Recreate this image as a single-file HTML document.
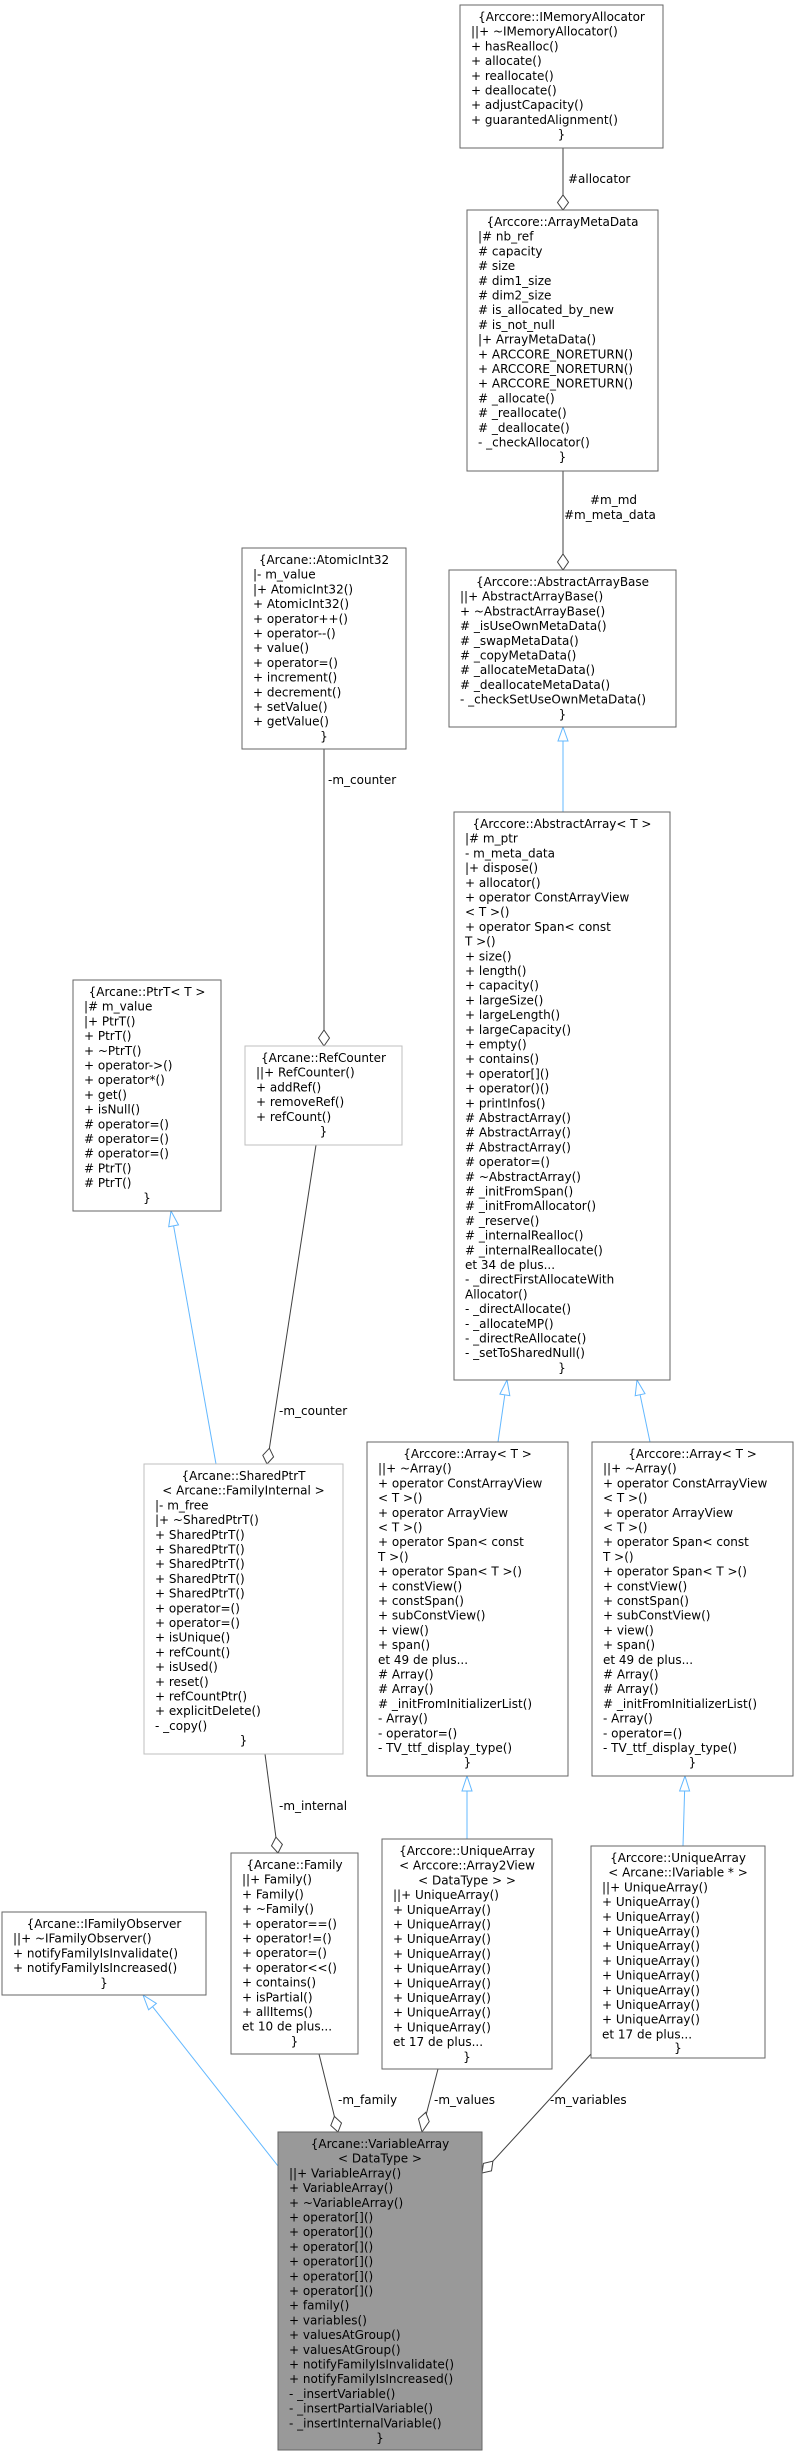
<!DOCTYPE html>
<html><head><meta charset="utf-8"><style>
html,body{margin:0;padding:0;background:#fff;}
svg{display:block;}
text{font-family:"DejaVu Sans","Liberation Sans",sans-serif;font-size:12px;fill:#000;}
.b{fill:#fff;stroke:#666;stroke-width:1;}
.l{fill:#fff;stroke:#bfbfbf;stroke-width:1;}
.g{fill:#999;stroke:#666;stroke-width:1;}
.a{stroke:#404040;fill:none;stroke-width:1;}
.ad{stroke:#404040;fill:#fff;stroke-width:1;}
.i{stroke:#63b8ff;fill:none;stroke-width:1;}
.it{stroke:#63b8ff;fill:#fff;stroke-width:1;}
.c{text-anchor:middle;}
</style></head><body>
<svg width="797" height="2456" viewBox="0 0 797 2456" xmlns="http://www.w3.org/2000/svg">
<g transform="translate(-3,0)">
<!-- edges -->
<line class="a" x1="566" y1="148" x2="566" y2="195"/>
<polygon class="ad" points="566,210 571.5,202.5 566,195 560.5,202.5"/>
<text x="571" y="183">#allocator</text>

<line class="a" x1="566" y1="471" x2="566" y2="554"/>
<polygon class="ad" points="566,570 571.5,562 566,554 560.5,562"/>
<text x="593" y="504">#m_md</text>
<text x="567" y="519">#m_meta_data</text>

<line class="i" x1="566" y1="812" x2="566" y2="741"/>
<polygon class="it" points="566,727 571,741 561,741"/>

<line class="a" x1="327" y1="749" x2="327" y2="1030"/>
<polygon class="ad" points="327,1046 332.5,1038 327,1030 321.5,1038"/>
<text x="331" y="784">-m_counter</text>

<line class="i" x1="219" y1="1464" x2="176.6" y2="1225.8"/>
<polygon class="it" points="174,1211 181.5,1224.9 171.7,1226.7"/>

<line class="a" x1="319" y1="1145" x2="272.4" y2="1448.2"/>
<polygon class="ad" points="270,1464 276.6,1456.9 272.4,1448.2 265.8,1455.3"/>
<text x="282" y="1415">-m_counter</text>

<line class="i" x1="501" y1="1442" x2="507.8" y2="1394.8"/>
<polygon class="it" points="510,1380 512.8,1395.6 502.9,1394.1"/>
<line class="i" x1="653" y1="1442" x2="643.1" y2="1394.7"/>
<polygon class="it" points="640,1380 648,1393.7 638.2,1395.7"/>

<line class="a" x1="268" y1="1754" x2="278.9" y2="1837.1"/>
<polygon class="ad" points="281,1853 285.4,1844.4 278.9,1837.1 274.5,1845.8"/>
<text x="282" y="1810">-m_internal</text>

<line class="i" x1="470" y1="1839" x2="470" y2="1791"/>
<polygon class="it" points="470,1776 475,1791 465,1791"/>
<line class="i" x1="686" y1="1846" x2="687.6" y2="1791"/>
<polygon class="it" points="688,1776 692.6,1791 682.6,1791"/>

<line class="i" x1="281" y1="2166" x2="155.5" y2="2006.6"/>
<polygon class="it" points="146,1995 159.4,2003.4 151.6,2009.8"/>

<line class="a" x1="322" y1="2054" x2="337.4" y2="2116.4"/>
<polygon class="ad" points="341,2132 344.5,2123 337.4,2116.4 333.8,2125.5"/>
<text x="341" y="2104">-m_family</text>

<line class="a" x1="441" y1="2069" x2="428.7" y2="2116.4"/>
<polygon class="ad" points="425,2136 432.2,2125.5 428.7,2116.4 421.5,2122.9" transform="translate(0,-4)"/>
<text x="437" y="2104">-m_values</text>

<line class="a" x1="594" y1="2054" x2="495.9" y2="2161.2"/>
<polygon class="ad" points="485,2173 494.5,2170.8 495.9,2161.2 486.4,2163.4"/>
<text x="553" y="2104">-m_variables</text>

<!-- IMemoryAllocator -->
<rect class="b" x="463" y="5" width="203" height="143"/>
<text class="c" x="564.5" y="21">{Arccore::IMemoryAllocator</text>
<text x="474" y="35.7">||+ ~IMemoryAllocator()</text>
<text x="474" y="50.4">+ hasRealloc()</text>
<text x="474" y="65.1">+ allocate()</text>
<text x="474" y="79.8">+ reallocate()</text>
<text x="474" y="94.5">+ deallocate()</text>
<text x="474" y="109.2">+ adjustCapacity()</text>
<text x="474" y="123.9">+ guarantedAlignment()</text>
<text class="c" x="564.5" y="138.6">}</text>

<!-- ArrayMetaData -->
<rect class="b" x="470" y="210" width="191" height="261"/>
<text class="c" x="565.5" y="226">{Arccore::ArrayMetaData</text>
<text x="481" y="240.7">|# nb_ref</text>
<text x="481" y="255.4"># capacity</text>
<text x="481" y="270.1"># size</text>
<text x="481" y="284.8"># dim1_size</text>
<text x="481" y="299.5"># dim2_size</text>
<text x="481" y="314.2"># is_allocated_by_new</text>
<text x="481" y="328.9"># is_not_null</text>
<text x="481" y="343.6">|+ ArrayMetaData()</text>
<text x="481" y="358.3">+ ARCCORE_NORETURN()</text>
<text x="481" y="373">+ ARCCORE_NORETURN()</text>
<text x="481" y="387.7">+ ARCCORE_NORETURN()</text>
<text x="481" y="402.4"># _allocate()</text>
<text x="481" y="417.1"># _reallocate()</text>
<text x="481" y="431.8"># _deallocate()</text>
<text x="481" y="446.5">- _checkAllocator()</text>
<text class="c" x="565.5" y="461.2">}</text>

<!-- AtomicInt32 -->
<rect class="b" x="245" y="548" width="164" height="201"/>
<text class="c" x="327" y="564">{Arcane::AtomicInt32</text>
<text x="256" y="578.7">|- m_value</text>
<text x="256" y="593.4">|+ AtomicInt32()</text>
<text x="256" y="608.1">+ AtomicInt32()</text>
<text x="256" y="622.8">+ operator++()</text>
<text x="256" y="637.5">+ operator--()</text>
<text x="256" y="652.2">+ value()</text>
<text x="256" y="666.9">+ operator=()</text>
<text x="256" y="681.6">+ increment()</text>
<text x="256" y="696.3">+ decrement()</text>
<text x="256" y="711">+ setValue()</text>
<text x="256" y="725.7">+ getValue()</text>
<text class="c" x="327" y="740.4">}</text>

<!-- AbstractArrayBase -->
<rect class="b" x="452" y="570" width="227" height="157"/>
<text class="c" x="565.5" y="586">{Arccore::AbstractArrayBase</text>
<text x="463" y="600.7">||+ AbstractArrayBase()</text>
<text x="463" y="615.4">+ ~AbstractArrayBase()</text>
<text x="463" y="630.1"># _isUseOwnMetaData()</text>
<text x="463" y="644.8"># _swapMetaData()</text>
<text x="463" y="659.5"># _copyMetaData()</text>
<text x="463" y="674.2"># _allocateMetaData()</text>
<text x="463" y="688.9"># _deallocateMetaData()</text>
<text x="463" y="703.6">- _checkSetUseOwnMetaData()</text>
<text class="c" x="565.5" y="718.3">}</text>

<!-- AbstractArray -->
<rect class="b" x="457" y="812" width="216" height="568"/>
<text class="c" x="565" y="828">{Arccore::AbstractArray&lt; T &gt;</text>
<g>
<text x="468" y="842.7">|# m_ptr</text>
<text x="468" y="857.4">- m_meta_data</text>
<text x="468" y="872.1">|+ dispose()</text>
<text x="468" y="886.8">+ allocator()</text>
<text x="468" y="901.5">+ operator ConstArrayView</text>
<text x="468" y="916.2">&lt; T &gt;()</text>
<text x="468" y="930.9">+ operator Span&lt; const</text>
<text x="468" y="945.6"> T &gt;()</text>
<text x="468" y="960.3">+ size()</text>
<text x="468" y="975">+ length()</text>
<text x="468" y="989.7">+ capacity()</text>
<text x="468" y="1004.4">+ largeSize()</text>
<text x="468" y="1019.1">+ largeLength()</text>
<text x="468" y="1033.8">+ largeCapacity()</text>
<text x="468" y="1048.5">+ empty()</text>
<text x="468" y="1063.2">+ contains()</text>
<text x="468" y="1077.9">+ operator[]()</text>
<text x="468" y="1092.6">+ operator()()</text>
<text x="468" y="1107.3">+ printInfos()</text>
<text x="468" y="1122"># AbstractArray()</text>
<text x="468" y="1136.7"># AbstractArray()</text>
<text x="468" y="1151.4"># AbstractArray()</text>
<text x="468" y="1166.1"># operator=()</text>
<text x="468" y="1180.8"># ~AbstractArray()</text>
<text x="468" y="1195.5"># _initFromSpan()</text>
<text x="468" y="1210.2"># _initFromAllocator()</text>
<text x="468" y="1224.9"># _reserve()</text>
<text x="468" y="1239.6"># _internalRealloc()</text>
<text x="468" y="1254.3"># _internalReallocate()</text>
<text x="468" y="1269">et 34 de plus...</text>
<text x="468" y="1283.7">- _directFirstAllocateWith</text>
<text x="468" y="1298.4">Allocator()</text>
<text x="468" y="1313.1">- _directAllocate()</text>
<text x="468" y="1327.8">- _allocateMP()</text>
<text x="468" y="1342.5">- _directReAllocate()</text>
<text x="468" y="1357.2">- _setToSharedNull()</text>
<text class="c" x="565" y="1371.9">}</text>
</g>

<!-- PtrT -->
<rect class="b" x="76" y="980" width="148" height="231"/>
<text class="c" x="150" y="996">{Arcane::PtrT&lt; T &gt;</text>
<text x="87" y="1010.7">|# m_value</text>
<text x="87" y="1025.4">|+ PtrT()</text>
<text x="87" y="1040.1">+ PtrT()</text>
<text x="87" y="1054.8">+ ~PtrT()</text>
<text x="87" y="1069.5">+ operator-&gt;()</text>
<text x="87" y="1084.2">+ operator*()</text>
<text x="87" y="1098.9">+ get()</text>
<text x="87" y="1113.6">+ isNull()</text>
<text x="87" y="1128.3"># operator=()</text>
<text x="87" y="1143"># operator=()</text>
<text x="87" y="1157.7"># operator=()</text>
<text x="87" y="1172.4"># PtrT()</text>
<text x="87" y="1187.1"># PtrT()</text>
<text class="c" x="150" y="1201.8">}</text>

<!-- RefCounter -->
<rect class="l" x="248" y="1046" width="157" height="99"/>
<text class="c" x="326.5" y="1062">{Arcane::RefCounter</text>
<text x="259" y="1076.7">||+ RefCounter()</text>
<text x="259" y="1091.4">+ addRef()</text>
<text x="259" y="1106.1">+ removeRef()</text>
<text x="259" y="1120.8">+ refCount()</text>
<text class="c" x="326.5" y="1135.5">}</text>

<!-- SharedPtrT -->
<rect class="l" x="147" y="1464" width="199" height="290"/>
<text class="c" x="246.5" y="1480">{Arcane::SharedPtrT</text>
<text class="c" x="246.5" y="1494.7">&lt; Arcane::FamilyInternal &gt;</text>
<text x="158" y="1509.4">|- m_free</text>
<text x="158" y="1524.1">|+ ~SharedPtrT()</text>
<text x="158" y="1538.8">+ SharedPtrT()</text>
<text x="158" y="1553.5">+ SharedPtrT()</text>
<text x="158" y="1568.2">+ SharedPtrT()</text>
<text x="158" y="1582.9">+ SharedPtrT()</text>
<text x="158" y="1597.6">+ SharedPtrT()</text>
<text x="158" y="1612.3">+ operator=()</text>
<text x="158" y="1627">+ operator=()</text>
<text x="158" y="1641.7">+ isUnique()</text>
<text x="158" y="1656.4">+ refCount()</text>
<text x="158" y="1671.1">+ isUsed()</text>
<text x="158" y="1685.8">+ reset()</text>
<text x="158" y="1700.5">+ refCountPtr()</text>
<text x="158" y="1715.2">+ explicitDelete()</text>
<text x="158" y="1729.9">- _copy()</text>
<text class="c" x="246.5" y="1744.6">}</text>

<!-- Array left -->
<rect class="b" x="370" y="1442" width="201" height="334"/>
<text class="c" x="470.5" y="1458">{Arccore::Array&lt; T &gt;</text>
<text x="381" y="1472.7">||+ ~Array()</text>
<text x="381" y="1487.4">+ operator ConstArrayView</text>
<text x="381" y="1502.1">&lt; T &gt;()</text>
<text x="381" y="1516.8">+ operator ArrayView</text>
<text x="381" y="1531.5">&lt; T &gt;()</text>
<text x="381" y="1546.2">+ operator Span&lt; const</text>
<text x="381" y="1560.9"> T &gt;()</text>
<text x="381" y="1575.6">+ operator Span&lt; T &gt;()</text>
<text x="381" y="1590.3">+ constView()</text>
<text x="381" y="1605">+ constSpan()</text>
<text x="381" y="1619.7">+ subConstView()</text>
<text x="381" y="1634.4">+ view()</text>
<text x="381" y="1649.1">+ span()</text>
<text x="381" y="1663.8">et 49 de plus...</text>
<text x="381" y="1678.5"># Array()</text>
<text x="381" y="1693.2"># Array()</text>
<text x="381" y="1707.9"># _initFromInitializerList()</text>
<text x="381" y="1722.6">- Array()</text>
<text x="381" y="1737.3">- operator=()</text>
<text x="381" y="1752">- TV_ttf_display_type()</text>
<text class="c" x="470.5" y="1766.7">}</text>

<!-- Array right -->
<rect class="b" x="595" y="1442" width="201" height="334"/>
<text class="c" x="695.5" y="1458">{Arccore::Array&lt; T &gt;</text>
<text x="606" y="1472.7">||+ ~Array()</text>
<text x="606" y="1487.4">+ operator ConstArrayView</text>
<text x="606" y="1502.1">&lt; T &gt;()</text>
<text x="606" y="1516.8">+ operator ArrayView</text>
<text x="606" y="1531.5">&lt; T &gt;()</text>
<text x="606" y="1546.2">+ operator Span&lt; const</text>
<text x="606" y="1560.9"> T &gt;()</text>
<text x="606" y="1575.6">+ operator Span&lt; T &gt;()</text>
<text x="606" y="1590.3">+ constView()</text>
<text x="606" y="1605">+ constSpan()</text>
<text x="606" y="1619.7">+ subConstView()</text>
<text x="606" y="1634.4">+ view()</text>
<text x="606" y="1649.1">+ span()</text>
<text x="606" y="1663.8">et 49 de plus...</text>
<text x="606" y="1678.5"># Array()</text>
<text x="606" y="1693.2"># Array()</text>
<text x="606" y="1707.9"># _initFromInitializerList()</text>
<text x="606" y="1722.6">- Array()</text>
<text x="606" y="1737.3">- operator=()</text>
<text x="606" y="1752">- TV_ttf_display_type()</text>
<text class="c" x="695.5" y="1766.7">}</text>

<!-- Family -->
<rect class="b" x="234" y="1853" width="127" height="201"/>
<text class="c" x="297.5" y="1869">{Arcane::Family</text>
<text x="245" y="1883.7">||+ Family()</text>
<text x="245" y="1898.4">+ Family()</text>
<text x="245" y="1913.1">+ ~Family()</text>
<text x="245" y="1927.8">+ operator==()</text>
<text x="245" y="1942.5">+ operator!=()</text>
<text x="245" y="1957.2">+ operator=()</text>
<text x="245" y="1971.9">+ operator&lt;&lt;()</text>
<text x="245" y="1986.6">+ contains()</text>
<text x="245" y="2001.3">+ isPartial()</text>
<text x="245" y="2016">+ allItems()</text>
<text x="245" y="2030.7">et 10 de plus...</text>
<text class="c" x="297.5" y="2045.4">}</text>

<!-- UniqueArray2View -->
<rect class="b" x="385" y="1839" width="170" height="230"/>
<text class="c" x="470" y="1855">{Arccore::UniqueArray</text>
<text class="c" x="470" y="1869.7">&lt; Arccore::Array2View</text>
<text class="c" x="470" y="1884.4">&lt; DataType &gt; &gt;</text>
<text x="396" y="1899.1">||+ UniqueArray()</text>
<text x="396" y="1913.8">+ UniqueArray()</text>
<text x="396" y="1928.5">+ UniqueArray()</text>
<text x="396" y="1943.2">+ UniqueArray()</text>
<text x="396" y="1957.9">+ UniqueArray()</text>
<text x="396" y="1972.6">+ UniqueArray()</text>
<text x="396" y="1987.3">+ UniqueArray()</text>
<text x="396" y="2002">+ UniqueArray()</text>
<text x="396" y="2016.7">+ UniqueArray()</text>
<text x="396" y="2031.4">+ UniqueArray()</text>
<text x="396" y="2046.1">et 17 de plus...</text>
<text class="c" x="470" y="2060.8">}</text>

<!-- UniqueArray IVariable -->
<rect class="b" x="594" y="1846" width="174" height="212"/>
<text class="c" x="681" y="1862">{Arccore::UniqueArray</text>
<text class="c" x="681" y="1876.7">&lt; Arcane::IVariable * &gt;</text>
<text x="605" y="1891.4">||+ UniqueArray()</text>
<text x="605" y="1906.1">+ UniqueArray()</text>
<text x="605" y="1920.8">+ UniqueArray()</text>
<text x="605" y="1935.5">+ UniqueArray()</text>
<text x="605" y="1950.2">+ UniqueArray()</text>
<text x="605" y="1964.9">+ UniqueArray()</text>
<text x="605" y="1979.6">+ UniqueArray()</text>
<text x="605" y="1994.3">+ UniqueArray()</text>
<text x="605" y="2009">+ UniqueArray()</text>
<text x="605" y="2023.7">+ UniqueArray()</text>
<text x="605" y="2038.4">et 17 de plus...</text>
<text class="c" x="681" y="2052">}</text>

<!-- IFamilyObserver -->
<rect class="b" x="5" y="1912" width="204" height="83"/>
<text class="c" x="107" y="1928">{Arcane::IFamilyObserver</text>
<text x="16" y="1942.7">||+ ~IFamilyObserver()</text>
<text x="16" y="1957.4">+ notifyFamilyIsInvalidate()</text>
<text x="16" y="1972.1">+ notifyFamilyIsIncreased()</text>
<text class="c" x="107" y="1986.8">}</text>

<!-- VariableArray -->
<g transform="translate(0,4)">
<rect class="g" x="281" y="2128" width="204" height="318"/>
<text class="c" x="383" y="2144">{Arcane::VariableArray</text>
<text class="c" x="383" y="2158.7">&lt; DataType &gt;</text>
<text x="292" y="2173.4">||+ VariableArray()</text>
<text x="292" y="2188.1">+ VariableArray()</text>
<text x="292" y="2202.8">+ ~VariableArray()</text>
<text x="292" y="2217.5">+ operator[]()</text>
<text x="292" y="2232.2">+ operator[]()</text>
<text x="292" y="2246.9">+ operator[]()</text>
<text x="292" y="2261.6">+ operator[]()</text>
<text x="292" y="2276.3">+ operator[]()</text>
<text x="292" y="2291">+ operator[]()</text>
<text x="292" y="2305.7">+ family()</text>
<text x="292" y="2320.4">+ variables()</text>
<text x="292" y="2335.1">+ valuesAtGroup()</text>
<text x="292" y="2349.8">+ valuesAtGroup()</text>
<text x="292" y="2364.5">+ notifyFamilyIsInvalidate()</text>
<text x="292" y="2379.2">+ notifyFamilyIsIncreased()</text>
<text x="292" y="2393.9">- _insertVariable()</text>
<text x="292" y="2408.6">- _insertPartialVariable()</text>
<text x="292" y="2423.3">- _insertInternalVariable()</text>
<text class="c" x="383" y="2438">}</text>
</g>
</g>
</svg>
</body></html>
